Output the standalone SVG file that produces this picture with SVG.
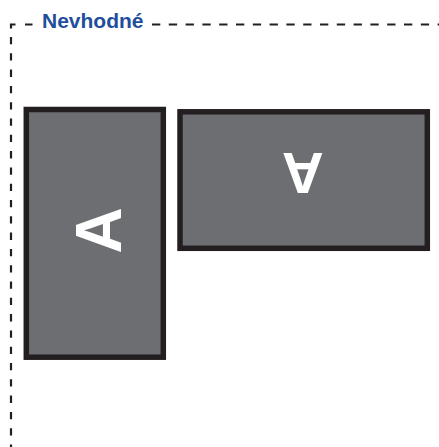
<svg xmlns="http://www.w3.org/2000/svg" width="439" height="447" viewBox="0 0 439 447">
<style>
.dash{fill:none;stroke:#231f20;stroke-width:2.2}
.card{fill:#6d6e71;stroke:#231f20;stroke-width:5.5}
.glyph{font-family:"Liberation Sans",Arial,sans-serif;font-weight:bold;fill:#ffffff;text-anchor:middle}
.title{font-family:"Liberation Sans",Arial,sans-serif;font-weight:bold;font-size:21px;fill:#1f4e9b}
</style>
<g id="frame">
<path class="dash" d="M15.5,24.5 H11 V28.5 M25,24.5 H32.5"/>
<path class="dash" d="M152,24.5 H439" stroke-dasharray="8.3 8.5"/>
<path class="dash" d="M11,37 V447" stroke-dasharray="7.3 9"/>
<text class="title" x="42" y="28">Nevhodné</text>
</g>
<g id="left-card">
<rect class="card" x="26.3" y="109.5" width="137" height="247.7"/>
<text class="glyph" font-size="64" transform="translate(98.3,230.5) rotate(-90)" x="0" y="22.9">A</text>
</g>
<g id="right-card">
<rect class="card" x="180" y="111.8" width="247.3" height="136.5"/>
<text class="glyph" font-size="58" transform="translate(302.7,174) rotate(180)" x="0" y="20.8">A</text>
</g>
</svg>
